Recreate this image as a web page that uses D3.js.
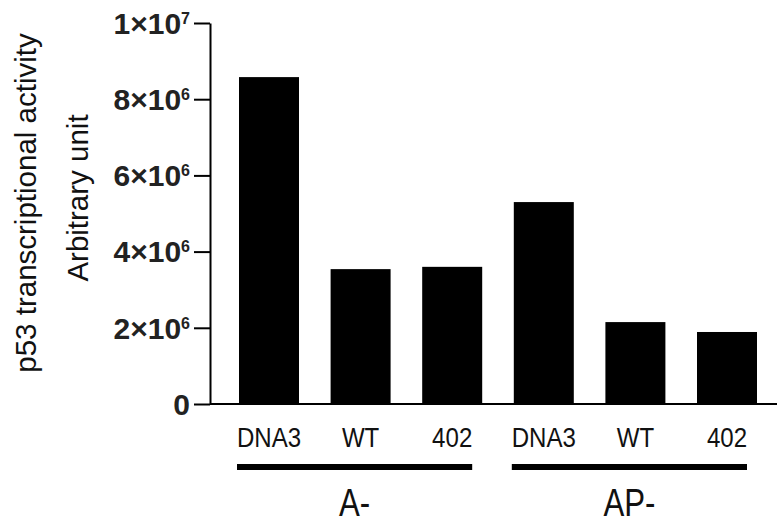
<!DOCTYPE html>
<html>
    <head>
        <meta charset="utf-8">
        <title>p53 activity</title>
        <style>
            body {
                margin: 0;
                background: white;
            }
        </style>
        <script src="https://cdn.jsdelivr.net/npm/d3@7"></script>
    </head>
    <body>
        <div class="chart"></div>
        <script>
            // values
            var groups = ["A-", "AP-"];
            var samples = ["DNA3", "WT", "402"];
            var activityA = [8.58e6, 3.54e6, 3.60e6];
            var activityAP = [5.30e6, 2.15e6, 1.89e6];
            var yTicks = [0, 2e6, 4e6, 6e6, 8e6, 1e7];
            var yTitle = ["p53 transcriptional activity", "Arbitrary unit"];

            var width = 777, height = 524;
            var plain = "'Liberation Sans', Arial, sans-serif";

            var data = [];
            [activityA, activityAP].forEach(function(vals, g) {
                samples.forEach(function(s, i) {
                    data.push({group: groups[g], sample: s, key: groups[g] + s, value: vals[i]});
                });
            });

            var svg = d3.select(".chart").append("svg")
                .attr("width", width)
                .attr("height", height);

            var xScale = d3.scaleBand()
                .domain(data.map(function(d) { return d.key; }))
                .range([239, 757])
                .paddingInner(0.345)
                .paddingOuter(0);

            var yScale = d3.scaleLinear()
                .domain([0, 1e7])
                .range([404, 23]);

            var axisX = 210;

            // bars
            svg.append("g").selectAll("rect")
                .data(data)
                .enter().append("rect")
                .attr("x", function(d) { return xScale(d.key); })
                .attr("y", function(d) { return yScale(d.value); })
                .attr("width", xScale.bandwidth())
                .attr("height", function(d) { return yScale(0) - yScale(d.value); })
                .attr("fill", "black");

            // y axis
            var yAxis = d3.axisLeft(yScale)
                .tickValues(yTicks)
                .tickSize(16)
                .tickSizeOuter(0)
                .tickPadding(4);

            var yg = svg.append("g")
                .attr("transform", "translate(" + axisX + ",0)")
                .call(yAxis);
            yg.select(".domain").attr("stroke", "black").attr("stroke-width", 2);
            yg.selectAll(".tick line").attr("stroke", "black").attr("stroke-width", 2);
            yg.selectAll(".tick text")
                .attr("font-family", plain)
                .attr("font-weight", "bold")
                .attr("font-size", "30px")
                .attr("fill", "#222")
                .attr("dy", "0.34em")
                .each(function(d) {
                    var t = d3.select(this).text("");
                    if (d === 0) { t.text("0"); return; }
                    var exp = Math.floor(Math.log10(d) + 1e-9);
                    var mant = Math.round(d / Math.pow(10, exp));
                    t.append("tspan").text(mant + "\u00d710");
                    t.append("tspan").attr("font-size", "16px").attr("dy", "-10").text(exp);
                });

            // x axis baseline
            svg.append("line")
                .attr("x1", axisX)
                .attr("x2", width)
                .attr("y1", yScale(0))
                .attr("y2", yScale(0))
                .attr("stroke", "black")
                .attr("stroke-width", 2);

            // sample labels (condensed look)
            svg.append("g").selectAll("text")
                .data(data)
                .enter().append("text")
                .attr("transform", function(d) {
                    return "translate(" + (xScale(d.key) + xScale.bandwidth() / 2) + ",447) scale(0.86,1)";
                })
                .attr("text-anchor", "middle")
                .attr("font-family", plain)
                .attr("font-size", "28px")
                .attr("fill", "#111")
                .text(function(d) { return d.sample; });

            // group bars + labels
            var gg = svg.append("g").selectAll("g")
                .data(groups)
                .enter().append("g");

            function groupStart(g) { return xScale(g + samples[0]) - 2; }
            function groupEnd(g) { return xScale(g + samples[samples.length - 1]) + xScale.bandwidth() - 10; }

            gg.append("line")
                .attr("x1", groupStart)
                .attr("x2", groupEnd)
                .attr("y1", 467)
                .attr("y2", 467)
                .attr("stroke", "black")
                .attr("stroke-width", 6);

            gg.append("text")
                .attr("transform", function(g) {
                    return "translate(" + ((groupStart(g) + groupEnd(g)) / 2) + ",516) scale(0.8,1)";
                })
                .attr("text-anchor", "middle")
                .attr("font-family", plain)
                .attr("font-size", "39px")
                .attr("fill", "#111")
                .text(function(g) { return g; });

            // y title, two lines
            var titlePos = [[36, 203], [88, 198]];
            svg.append("g").selectAll("text")
                .data(yTitle)
                .enter().append("text")
                .attr("transform", function(d, i) { return "translate(" + titlePos[i][0] + "," + titlePos[i][1] + ") rotate(-90)"; })
                .attr("text-anchor", "middle")
                .attr("font-family", plain)
                .attr("font-size", "29.5px")
                .attr("fill", "#111")
                .text(function(d) { return d; });
        </script>
    </body>
</html>
